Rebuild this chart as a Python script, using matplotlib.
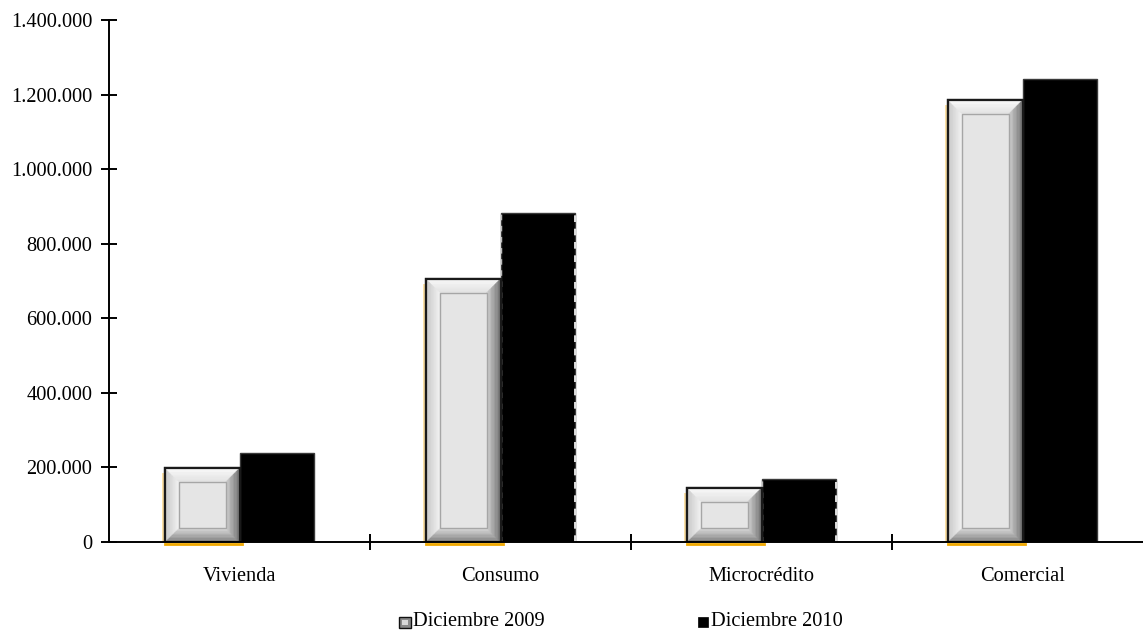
import matplotlib
matplotlib.use("Agg")
import matplotlib.pyplot as plt
from matplotlib.patches import Polygon, Rectangle
import numpy as np

# ---- data ----
categories = ["Vivienda", "Consumo", "Microcrédito", "Comercial"]
dic_2009 = [198000, 706000, 145000, 1185000]
dic_2010 = [240000, 883000, 169000, 1241000]
series_names = ["Diciembre 2009", "Diciembre 2010"]
y_ticks = [0, 200000, 400000, 600000, 800000, 1000000, 1200000, 1400000]
y_tick_labels = ["0", "200.000", "400.000", "600.000", "800.000", "1.000.000", "1.200.000", "1.400.000"]

W, H = 1143, 638
FS = 14.7
plt.rcParams['font.family'] = ['Liberation Serif', 'DejaVu Serif']
fig = plt.figure(figsize=(W / 100, H / 100), dpi=100)
fig.patch.set_facecolor("white")

left_px, right_px, top_px, bot_px = 109, 1153, 20, 542
ax = fig.add_axes([left_px / W, (H - bot_px) / H, (right_px - left_px) / W, (bot_px - top_px) / H])
ax.set_xlim(-0.5, 3.5)
ax.set_ylim(0, 1400000)
ax.set_facecolor("none")

x = np.arange(len(categories))
bw = 0.287

# data units per pixel
ux = 4.0 / (right_px - left_px)
uy = 1400000 / (bot_px - top_px)

def hex2rgb(h):
    h = h.lstrip('#')
    return np.array([int(h[i:i + 2], 16) / 255 for i in (0, 2, 4)])

def lerp(c0, c1, t):
    return tuple(hex2rgb(c0) * (1 - t) + hex2rgb(c1) * t)

def bevel(x0, x1, y0, y1, bpx=14, n=10):
    bx, by = bpx * ux, bpx * uy
    sides = {
        'top': ('#fbfbfb', '#e2e2e2'),
        'left': ('#c4c4c4', '#f2f2f2'),
        'right': ('#6c6c6c', '#d2d2d2'),
        'bottom': ('#7c7c7c', '#dadada'),
    }
    for i in range(n):
        t0, t1 = i / n, (i + 1) / n
        ax0, ay0 = t0 * bx, t0 * by
        ax1, ay1 = t1 * bx, t1 * by
        tm = (t0 + t1) / 2
        polys = {
            'top': [(x0 + ax0, y1 - ay0), (x1 - ax0, y1 - ay0), (x1 - ax1, y1 - ay1), (x0 + ax1, y1 - ay1)],
            'bottom': [(x0 + ax0, y0 + ay0), (x1 - ax0, y0 + ay0), (x1 - ax1, y0 + ay1), (x0 + ax1, y0 + ay1)],
            'left': [(x0 + ax0, y0 + ay0), (x0 + ax0, y1 - ay0), (x0 + ax1, y1 - ay1), (x0 + ax1, y0 + ay1)],
            'right': [(x1 - ax0, y0 + ay0), (x1 - ax0, y1 - ay0), (x1 - ax1, y1 - ay1), (x1 - ax1, y0 + ay1)],
        }
        for s, pts in polys.items():
            c = lerp(sides[s][0], sides[s][1], tm)
            ax.add_patch(Polygon(pts, closed=True, facecolor=c, edgecolor=c, lw=0.3, zorder=3))
    ax.add_patch(Rectangle((x0 + bx, y0 + by), (x1 - x0) - 2 * bx, (y1 - y0) - 2 * by,
                           facecolor='#e5e5e5', edgecolor='#a6a6a6', lw=1.0, zorder=3.5))

bars09 = ax.bar(x - bw / 2, dic_2009, width=bw, facecolor='#e5e5e5', edgecolor='#1a1a1a',
                lw=1.6, zorder=2, label=series_names[0])
for b in bars09:
    x0, y0 = b.get_x(), b.get_y()
    x1, y1 = x0 + b.get_width(), y0 + b.get_height()
    # orange glow on left and bottom
    ax.plot([x0 - 1.5 * ux, x0 - 1.5 * ux], [y0, y1 - 6 * uy], color='#f5b21a', lw=1.4, alpha=0.4, zorder=1.5)
    ax.plot([x0, x1 + 2 * ux], [y0 - 1.5 * uy, y0 - 1.5 * uy], color='#f0a800', lw=2.0, zorder=1.5,
            clip_on=False)
    bevel(x0, x1, y0, y1)
    ax.add_patch(Rectangle((x0, y0), x1 - x0, y1 - y0, fill=False, edgecolor='#1a1a1a', lw=1.6, zorder=4))

bars10 = ax.bar(x + bw / 2, dic_2010, width=bw, facecolor='black', edgecolor='#3a3a3a',
                lw=1.0, zorder=2, label=series_names[1])
# dashed light edges visible on some black bars
for i in (1, 2):
    b = bars10[i]
    x0, x1 = b.get_x(), b.get_x() + b.get_width()
    ax.plot([x0, x0], [0, b.get_height()], color='#bbbbbb', lw=1.0, ls=(0, (4, 4)), zorder=2.5)
    ax.plot([x1, x1], [0, b.get_height()], color='white', lw=1.2, ls=(0, (4, 4)), zorder=2.5)

# axes styling
for s in ['top', 'right']:
    ax.spines[s].set_visible(False)
ax.spines['left'].set_linewidth(1.4)
ax.spines['bottom'].set_linewidth(1.4)
ax.spines['left'].set_zorder(5)
ax.spines['bottom'].set_zorder(5)

ax.set_yticks(y_ticks)
ax.set_yticklabels(y_tick_labels, fontsize=FS)
ax.tick_params(axis='y', direction='inout', length=12, width=1.4, pad=6)

ax.set_xticks(x)
ax.set_xticklabels(categories, fontsize=FS)
ax.tick_params(axis='x', which='major', length=0, pad=18)
ax.set_xticks([0.5, 1.5, 2.5], minor=True)
ax.tick_params(axis='x', which='minor', direction='inout', length=12, width=1.4)

# legend (manual)
def fx(px):
    return px / W

def fy(py):
    return 1 - py / H

# 2009 marker
fig.add_artist(Rectangle((fx(399), fy(628)), 12 / W, 11 / H, transform=fig.transFigure,
                         facecolor='#8a8a8a', edgecolor='#111111', lw=1.0))
fig.add_artist(Rectangle((fx(402), fy(625)), 6 / W, 5 / H, transform=fig.transFigure,
                         facecolor='#d9d9d9', edgecolor='none'))
fig.text(fx(413), fy(622), series_names[0], fontsize=FS, va='center', ha='left')
# 2010 marker
fig.add_artist(Rectangle((fx(698), fy(627)), 10 / W, 10 / H, transform=fig.transFigure,
                         facecolor='black', edgecolor='black', lw=0.5))
fig.text(fx(711), fy(622), series_names[1], fontsize=FS, va='center', ha='left')

fig.savefig("out.png", dpi=100, facecolor='white')
